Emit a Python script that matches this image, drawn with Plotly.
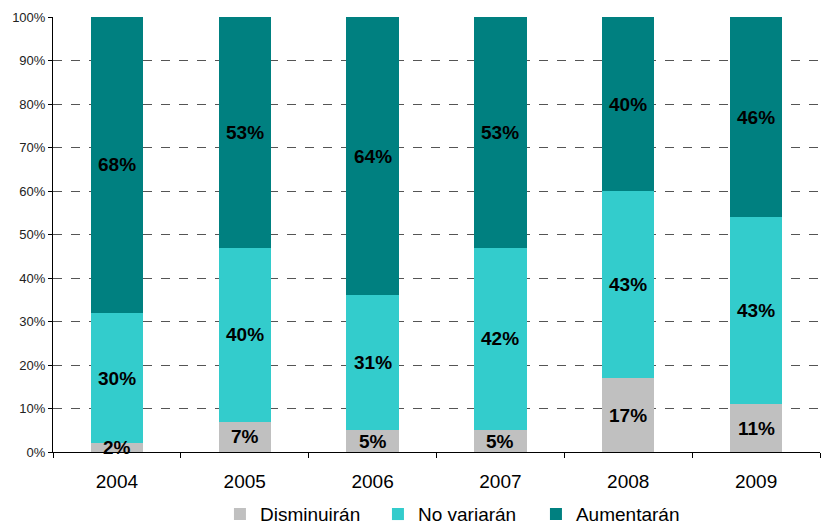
import plotly.graph_objects as go

years = ["2004", "2005", "2006", "2007", "2008", "2009"]
disminuiran = [2, 7, 5, 5, 17, 11]
no_variaran = [30, 40, 31, 42, 43, 43]
aumentaran = [68, 53, 64, 53, 40, 46]

series = [
    ("Disminuirán", disminuiran, "#C0C0C0"),
    ("No variarán", no_variaran, "#33CCCC"),
    ("Aumentarán", aumentaran, "#008080"),
]

font_family = "Liberation Sans, Arial, sans-serif"

fig = go.Figure()
for name, vals, color in series:
    fig.add_trace(go.Bar(
        x=years, y=vals, name=name,
        marker=dict(color=color, line=dict(width=0)),
        width=0.41,
    ))

# value labels centred in each segment (category positions are 0..n-1)
annotations = []
base = [0] * len(years)
for name, vals, color in series:
    for i, v in enumerate(vals):
        annotations.append(dict(
            x=i, y=base[i] + v / 2, xref="x", yref="y",
            text=f"<b>{v}%</b>", showarrow=False,
            font=dict(family=font_family, size=19, color="#000000"),
        ))
        base[i] += v

fig.update_layout(
    barmode="stack",
    width=830, height=527,
    margin=dict(l=53, r=10, t=17, b=75, autoexpand=False),
    plot_bgcolor="white", paper_bgcolor="white",
    font=dict(family=font_family, color="#222222"),
    annotations=annotations,
    legend=dict(
        orientation="h", xref="container", x=0.265, xanchor="left",
        yref="paper", y=-0.143, yanchor="middle",
        font=dict(size=19, color="#000000"), traceorder="normal",
        itemwidth=30, entrywidth=113, entrywidthmode="pixels",
    ),
    xaxis=dict(
        type="category", range=[-0.5, len(years) - 0.5],
        tickson="boundaries", ticks="outside", ticklen=5,
        ticklabelstandoff=12, automargin=False,
        tickcolor="#000000", showline=True, linecolor="#000000", linewidth=1,
        tickfont=dict(size=19, color="#000000"), showgrid=False,
    ),
    yaxis=dict(
        range=[0, 100], dtick=10, ticksuffix="%", ticks="outside", ticklen=4,
        automargin=False,
        tickcolor="#000000", showline=True, linecolor="#000000", linewidth=1,
        tickfont=dict(size=13, color="#222222"),
        showgrid=True, gridcolor="#555555", griddash="dash", gridwidth=1,
        zeroline=False,
    ),
)

fig.write_html("out.html")
